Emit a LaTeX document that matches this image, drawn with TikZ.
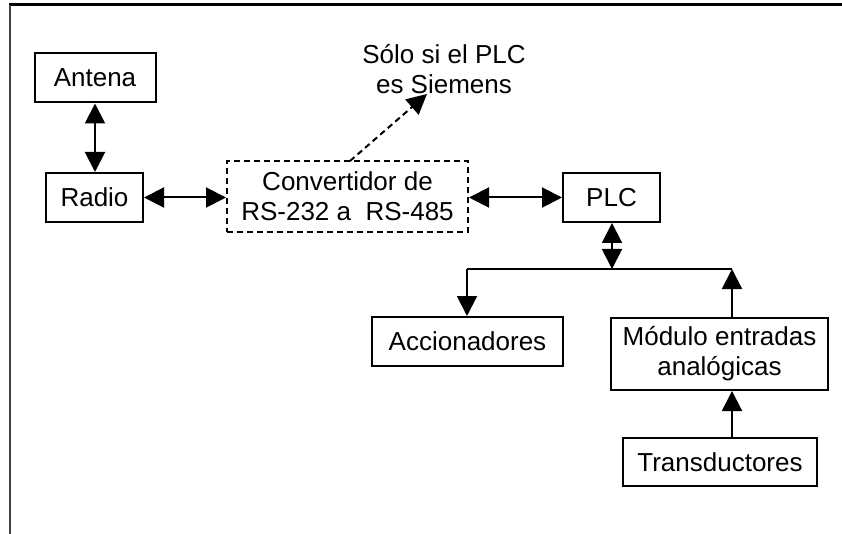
\documentclass[tikz,border=0pt]{standalone}
\usepackage{fontspec}
\setmainfont{Liberation Sans}
\usetikzlibrary{arrows.meta}
\tikzset{
  box/.style={draw, line width=2pt, inner sep=0pt, align=center, font=\fontsize{26}{30}\selectfont},
  dbox/.style={box, dash pattern=on 6pt off 4pt},
  conn/.style={line width=2pt, -{Triangle[length=20pt,width=20pt]}},
  dconn/.style={line width=2pt, {Triangle[length=20pt,width=20pt]}-{Triangle[length=20pt,width=20pt]}},
  frame/.style={line width=3pt},
  note/.style={align=center, font=\fontsize{26}{30}\selectfont}
}
\begin{document}
\begin{tikzpicture}[x=1pt,y=-1pt]
\useasboundingbox (0,0) rectangle (842,534);
% partial page frame
\draw[frame] (9,5) -- (842,5);
\draw[frame, line width=2.5pt, black!75] (10,5) -- (10,534);

\node[box, minimum width=121pt, minimum height=49pt] (antena) at (95,78) {Antena};
\node[box, minimum width=97pt, minimum height=49pt] (radio) at (94.5,197.5) {Radio};
\node[dbox, minimum width=241pt, minimum height=71pt] (conv) at (347.5,196.5) {Convertidor de\\RS-232 a~ RS-485};
\node[box, minimum width=97pt, minimum height=49pt] (plc) at (611.5,197.5) {PLC};
\node[box, minimum width=191pt, minimum height=49pt] (acc) at (467.5,341.5) {Accionadores};
\node[box, minimum width=217pt, minimum height=72pt] (mod) at (719.5,354) {Módulo entradas\\analógicas};
\node[box, minimum width=194pt, minimum height=48pt] (trans) at (720,462) {Transductores};
\node[note] (nota) at (444,69) {Sólo si el PLC\\es Siemens};

\coordinate (busL) at (467,269);
\coordinate (busM) at (612,269);
\coordinate (busR) at (732,269);
\coordinate (convtop) at (350,161);
\coordinate (notetip) at (427,94);

\draw[dconn] (antena.south) -- (antena.south |- radio.north);
\draw[dconn] (radio.east) -- (conv.west |- radio.east);
\draw[dconn] (conv.east |- plc.west) -- (plc.west);
\draw[dconn] (plc.south -| busM) -- (busM);
\draw[line width=2pt] (busL) -- (busR);
\draw[conn] (busL) -- (busL |- acc.north);
\draw[conn] (busR |- mod.north) -- (busR);
\draw[conn] (busR |- trans.north) -- (busR |- mod.south);
\draw[conn, dash pattern=on 6pt off 4pt] (convtop) -- (notetip);
\end{tikzpicture}
\end{document}
